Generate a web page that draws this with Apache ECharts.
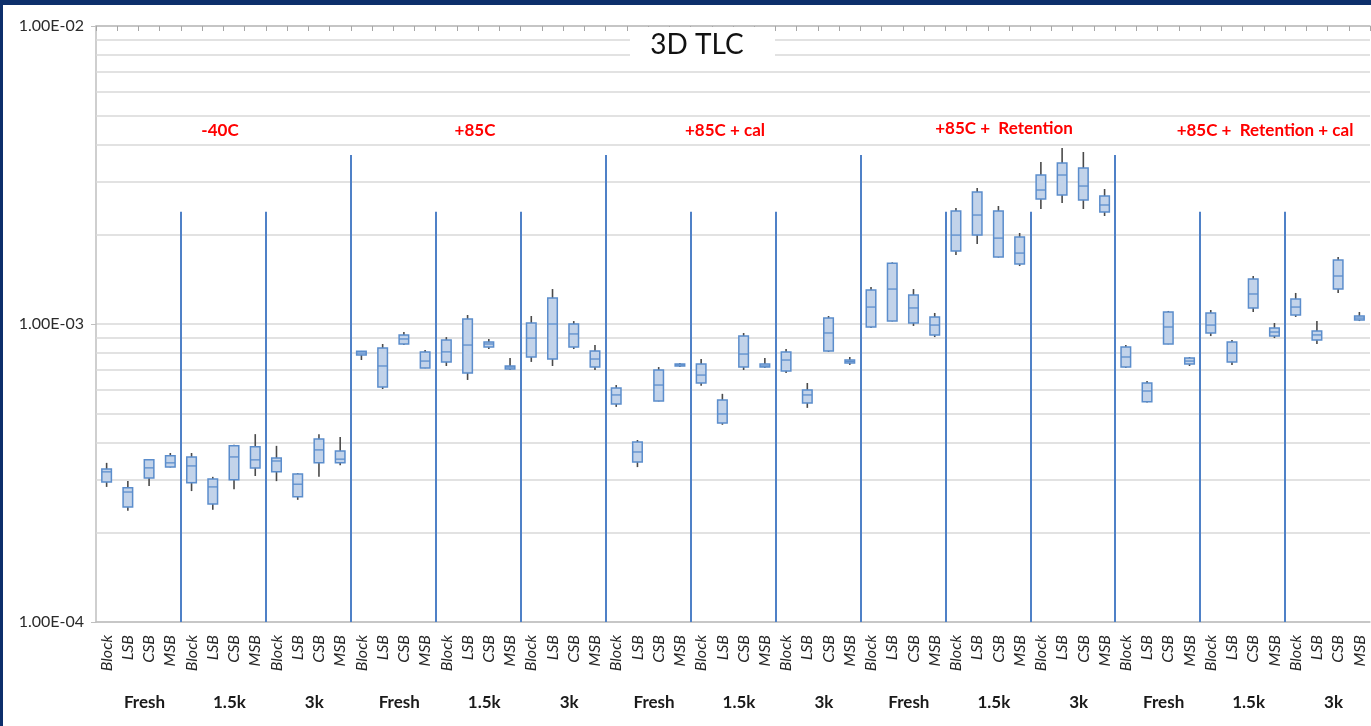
<!DOCTYPE html>
<html>
<head>
<meta charset="utf-8">
<title>3D TLC</title>
<script src="https://cdn.jsdelivr.net/npm/echarts@6/dist/echarts.min.js"></script>
<style>
  html, body { margin: 0; padding: 0; background: #0d2f6b; }
  #chart { position: absolute; left: 3px; top: 5px; width: 1368px; height: 721px; background: #fff; }
</style>
</head>
<body>
<div id="chart"></div>
<script>
// Datos (unidades de 1e-4): [min, Q1, mediana, Q3, max]
const UNIT = 1e-4;

const bitLabels = ["Block", "LSB", "CSB", "MSB"];
const cycleLabels = ["Fresh", "1.5k", "3k"];
const conditionLabels = ["-40C", "+85C", "+85C + cal", "+85C +  Retention", "+85C +  Retention + cal"];

const minus40 = [
  [2.84, 2.95, 3.19, 3.26, 3.42], [2.36, 2.43, 2.73, 2.82, 2.97],
  [2.86, 3.04, 3.29, 3.50, 3.52], [3.30, 3.31, 3.42, 3.61, 3.69],
  [2.75, 2.93, 3.34, 3.58, 3.69], [2.38, 2.49, 2.84, 3.02, 3.07],
  [2.79, 3.00, 3.58, 3.90, 3.93], [3.09, 3.29, 3.50, 3.87, 4.27],
  [2.97, 3.19, 3.47, 3.55, 3.90], [2.57, 2.63, 2.90, 3.14, 3.16],
  [3.07, 3.42, 3.78, 4.11, 4.27], [3.36, 3.42, 3.52, 3.75, 4.18],
];
const plus85 = [
  [7.57, 7.87, 7.99, 8.10, 8.12], [6.05, 6.15, 7.23, 8.31, 8.57],
  [8.50, 8.57, 8.91, 9.19, 9.40], [7.10, 7.12, 7.51, 8.06, 8.18],
  [7.23, 7.46, 8.06, 8.84, 9.04], [6.49, 6.85, 8.50, 10.39, 10.72],
  [8.24, 8.37, 8.57, 8.70, 8.91], [7.01, 7.06, 7.17, 7.23, 7.69],
  [7.46, 7.75, 8.97, 10.08, 10.64], [7.23, 7.63, 10.00, 12.22, 13.10],
  [8.24, 8.37, 9.26, 10.00, 10.23], [7.01, 7.17, 7.63, 8.12, 8.50],
];
const plus85cal = [
  [5.27, 5.39, 5.78, 6.10, 6.24], [3.31, 3.44, 3.72, 4.02, 4.08],
  [5.50, 5.52, 6.24, 7.01, 7.17], [7.17, 7.23, 7.29, 7.34, 7.40],
  [6.20, 6.34, 6.74, 7.34, 7.63], [4.59, 4.65, 4.99, 5.56, 5.83],
  [7.01, 7.17, 7.93, 9.11, 9.33], [7.12, 7.17, 7.23, 7.34, 7.69],
  [6.85, 6.96, 7.57, 8.06, 8.24], [5.23, 5.43, 5.78, 6.01, 6.34],
  [8.06, 8.12, 9.33, 10.47, 10.64], [7.29, 7.40, 7.49, 7.57, 7.75],
];
const plus85ret = [
  [9.70, 9.77, 11.40, 13.00, 13.31], [10.20, 10.23, 13.10, 16.00, 16.10],
  [9.85, 10.08, 11.32, 12.51, 13.10], [9.04, 9.19, 9.92, 10.56, 10.89],
  [17.03, 17.57, 19.88, 23.94, 24.50], [18.54, 19.88, 23.21, 27.73, 28.60],
  [16.70, 16.77, 19.42, 23.94, 24.89], [15.65, 15.89, 17.30, 19.57, 20.20],
  [24.32, 26.25, 28.16, 31.62, 34.96], [25.47, 27.09, 31.62, 34.70, 38.96],
  [24.32, 26.07, 29.04, 33.38, 37.78], [23.04, 23.76, 25.08, 26.89, 28.38],
];
const plus85retCal = [
  [7.12, 7.17, 7.75, 8.37, 8.50], [5.45, 5.48, 5.96, 6.34, 6.44],
  [8.55, 8.57, 9.77, 10.97, 11.06], [7.23, 7.34, 7.51, 7.69, 7.75],
  [9.11, 9.33, 9.92, 10.89, 11.14], [7.29, 7.46, 7.99, 8.70, 8.84],
  [10.97, 11.32, 12.61, 14.16, 14.49], [8.97, 9.11, 9.40, 9.70, 10.08],
  [10.56, 10.72, 11.40, 12.13, 12.71], [8.57, 8.84, 9.19, 9.47, 10.23],
  [12.71, 13.10, 14.49, 16.39, 16.77], [10.23, 10.31, 10.47, 10.64, 10.97],
];

// lineas de rejilla menores del eje log (2..9 de cada decada)
const minorGridValues = [2e-4, 3e-4, 4e-4, 5e-4, 6e-4, 7e-4, 8e-4, 9e-4,
                         2e-3, 3e-3, 4e-3, 5e-3, 6e-3, 7e-3, 8e-3, 9e-3];

const Y_MIN = 1e-4, Y_MAX = 1e-2;
const MAJOR_SEP_TOP = 3.69e-3; // altura de los separadores entre condiciones
const MINOR_SEP_TOP = 2.38e-3; // altura de los separadores entre ciclos

// Construir categorias y datos
const groups = [minus40, plus85, plus85cal, plus85ret, plus85retCal];
const categories = [];
const cycleAxis = [];
const boxRows = [];
groups.forEach((g) => {
  cycleLabels.forEach((c) => cycleAxis.push(c));
  g.forEach((b, j) => {
    categories.push(bitLabels[j % 4]);
    boxRows.push([boxRows.length].concat(b.map((v) => v * UNIT)));
  });
});
const N = categories.length;

const GRID_GRAY = "#d9d9d9";
const AXIS_GRAY = "#bfbfbf";
const SEP_BLUE = "#4f81c7";

const gridLines = minorGridValues.map((v) => [
  { coord: [0, v], lineStyle: { color: GRID_GRAY, width: 1.5, type: "solid" } },
  { coord: [N, v] },
]);

const sepLines = [];
for (let k = 4; k < N; k += 4) {
  const top = k % 12 === 0 ? MAJOR_SEP_TOP : MINOR_SEP_TOP;
  sepLines.push([
    { coord: [k, Y_MIN], lineStyle: { color: SEP_BLUE, width: 2, type: "solid" } },
    { coord: [k, top] },
  ]);
}

const fmtSci = (v) => {
  const e = Math.round(Math.log10(v));
  const m = v / Math.pow(10, e);
  return m.toFixed(2) + "E" + (e < 0 ? "-" : "+") + String(Math.abs(e)).padStart(2, "0");
};

const FONT = "Lato, 'Open Sans', sans-serif";

// posiciones de las etiquetas rojas (px del lienzo)
const condLabelPos = [[217, 126], [472, 126], [722, 126], [1001, 124], [1262, 126]];

const chart = echarts.init(document.getElementById("chart"));

chart.setOption({
  animation: false,
  backgroundColor: "#fff",
  grid: { left: 93, right: 1, top: 21, bottom: 104 },
  xAxis: [
    {
      type: "category",
      data: categories,
      position: "bottom",
      axisLine: { lineStyle: { color: AXIS_GRAY, width: 1.5 } },
      axisTick: { show: false },
      axisLabel: {
        interval: 0, rotate: 90, margin: 13,
        fontFamily: FONT, fontStyle: "italic", fontSize: 16, color: "#262626",
      },
    },
    {
      // eje auxiliar arriba: marcas entre categorias
      type: "value",
      min: 0,
      max: N,
      interval: 1,
      position: "top",
      axisLine: { show: true, lineStyle: { color: AXIS_GRAY, width: 1.5 } },
      axisTick: { show: true, inside: true, length: 5, lineStyle: { color: "#a6a6a6", width: 1 } },
      axisLabel: { show: false },
      splitLine: { show: false },
    },
    {
      type: "category",
      data: cycleAxis,
      position: "bottom",
      axisLine: { show: false },
      axisTick: { show: false },
      axisLabel: {
        interval: 0, margin: 72, padding: [0, 0, 0, 12],
        fontFamily: FONT, fontWeight: "bold", fontSize: 17, color: "#1a1a1a",
      },
    },
  ],
  yAxis: {
    type: "log",
    logBase: 10,
    min: Y_MIN,
    max: Y_MAX,
    axisLine: { show: true, lineStyle: { color: AXIS_GRAY, width: 1.5 } },
    axisTick: { show: true, length: 5, lineStyle: { color: AXIS_GRAY } },
    axisLabel: {
      formatter: fmtSci, margin: 12,
      fontFamily: FONT, fontSize: 16, color: "#2b2b2b",
    },
    splitLine: { show: true, lineStyle: { color: GRID_GRAY, width: 1.5 } },
  },
  graphic: [
    {
      type: "rect",
      z: 100,
      zlevel: 1,
      shape: { x: 627, y: 22, width: 145, height: 35 },
      style: { fill: "#fff" },
    },
    {
      type: "text",
      z: 101,
      zlevel: 1,
      x: 694,
      y: 40,
      style: {
        text: "3D TLC", align: "center", verticalAlign: "middle",
        font: "28px " + FONT, fill: "#111",
      },
    },
  ].concat(conditionLabels.map((t, i) => ({
    type: "text",
    x: condLabelPos[i][0],
    y: condLabelPos[i][1],
    z: 50,
    zlevel: 1,
    style: {
      text: t, align: "center", verticalAlign: "middle",
      font: "bold 17px " + FONT, fill: "#ff0000",
    },
  }))),
  series: [
    {
      // rejilla menor + separadores verticales
      type: "line",
      xAxisIndex: 1,
      data: [],
      silent: true,
      markLine: {
        silent: true,
        symbol: "none",
        label: { show: false },
        animation: false,
        data: gridLines.concat(sepLines),
      },
    },
    {
      type: "custom",
      xAxisIndex: 0,
      data: boxRows,
      encode: { x: 0, y: [1, 2, 3, 4, 5] },
      z: 5,
      renderItem: function (params, api) {
        const idx = api.value(0);
        const pLow = api.coord([idx, api.value(1)]);
        const pQ1 = api.coord([idx, api.value(2)]);
        const pMed = api.coord([idx, api.value(3)]);
        const pQ3 = api.coord([idx, api.value(4)]);
        const pHigh = api.coord([idx, api.value(5)]);
        const w = api.size([1, 1e-3])[0] * 0.45;
        const x0 = pQ1[0] - w / 2;
        return {
          type: "group",
          children: [
            {
              type: "line",
              shape: { x1: pLow[0], y1: pLow[1], x2: pHigh[0], y2: pHigh[1] },
              style: { stroke: "#4a4a4a", lineWidth: 1.6 },
            },
            {
              type: "rect",
              shape: { x: x0, y: pQ3[1], width: w, height: Math.max(pQ1[1] - pQ3[1], 2) },
              style: { fill: "#c2d3ea", stroke: "#5b8dcc", lineWidth: 1.5 },
            },
            {
              type: "line",
              shape: { x1: x0, y1: pMed[1], x2: x0 + w, y2: pMed[1] },
              style: { stroke: "#5b8dcc", lineWidth: 1.3 },
            },
          ],
        };
      },
    },
  ],
});
</script>
</body>
</html>
